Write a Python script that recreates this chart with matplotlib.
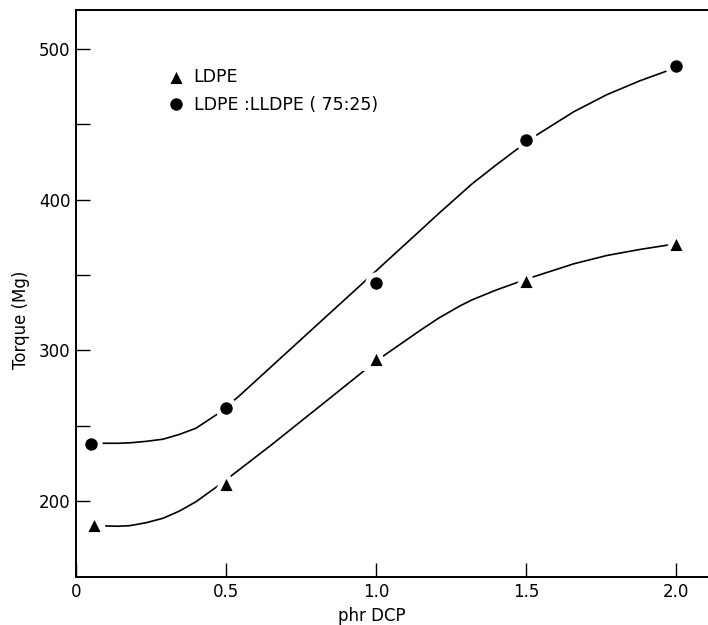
import matplotlib
matplotlib.use("Agg")
import matplotlib.pyplot as plt

# measured points (phr DCP vs torque)
ldpe_x = [0.06, 0.5, 1.0, 1.5, 2.0]
ldpe_y = [185, 212, 295, 347, 371]
blend_x = [0.05, 0.5, 1.0, 1.5, 2.0]
blend_y = [238, 262, 345, 440, 489]

# hand-drawn fit curves
ldpe_curve_x = [0.10, 0.14, 0.18, 0.235, 0.29, 0.345, 0.40, 0.47, 0.51,
                0.65, 0.76, 0.87, 0.97, 1.03, 1.15, 1.21, 1.28, 1.32, 1.40,
                1.47, 1.52, 1.66, 1.77, 1.88, 1.97, 2.0]
ldpe_curve_y = [183.4, 183.2, 183.6, 185.6, 188.5, 193.3, 199.5, 209.5,
                215.5, 237, 254.5, 272, 288, 297, 313.6, 321.5, 329.5, 333.5,
                340, 345, 348.5, 357.5, 363, 367, 369.8, 370.7]
blend_curve_x = [0.09, 0.14, 0.18, 0.235, 0.29, 0.345, 0.40, 0.47, 0.54,
                 0.65, 0.76, 0.87, 0.95, 1.04, 1.15, 1.21, 1.32, 1.40, 1.47,
                 1.54, 1.66, 1.77, 1.88, 1.97, 2.0]
blend_curve_y = [238.3, 238.3, 238.6, 239.6, 241, 244.2, 248.3, 257.5, 269,
                 289, 309, 329, 343.5, 360, 380, 391, 410.5, 423, 433.5,
                 443.5, 458.5, 469.8, 479, 485.5, 487.5]

x_ticks = [0, 0.5, 1.0, 1.5, 2.0]
x_labels = ["0", "0.5", "1.0", "1.5", "2.0"]
y_ticks = [200, 300, 400, 500]

plt.rcParams['font.family'] = ['DejaVu Sans']

fig = plt.figure(figsize=(7.08, 6.25), dpi=100)
ax = fig.add_axes([76 / 708, 48 / 625, 632 / 708, 567 / 625])

ax.plot(blend_curve_x, blend_curve_y, color='black', lw=1.2)
ax.plot(ldpe_curve_x, ldpe_curve_y, color='black', lw=1.2)

# white marker edges leave the small gaps seen around each point
ax.plot(ldpe_x, ldpe_y, linestyle='none', marker='^', markersize=15,
        color='black', markeredgecolor='white', markeredgewidth=3.5,
        label='LDPE')
ax.plot(blend_x, blend_y, linestyle='none', marker='o', markersize=12.5,
        color='black', markeredgecolor='white', markeredgewidth=3.5,
        label='LDPE :LLDPE ( 75:25)')

ax.set_xlim(0, 2.107)
ax.set_ylim(149.5, 526)

ax.set_xticks(x_ticks)
ax.set_xticklabels(x_labels)
ax.set_yticks(y_ticks)
ax.set_yticks([250, 350, 450], minor=True)
ax.tick_params(axis='both', which='both', direction='in', length=10,
               width=1, labelsize=12, colors='black')
ax.tick_params(axis='x', pad=4)
ax.tick_params(axis='y', pad=4)

for side in ['left', 'bottom', 'top']:
    ax.spines[side].set_linewidth(1.4)
ax.spines['right'].set_visible(False)

ax.set_xlabel('phr DCP', fontsize=12)
ax.xaxis.set_label_coords(0.468, -0.053)
ax.set_ylabel('Torque (Mg)', fontsize=12)
ax.yaxis.set_label_coords(-0.072, 0.453)

ax.legend(loc='upper left', bbox_to_anchor=(0.12, 0.925), frameon=False,
          fontsize=12.5, handlelength=1.0, handletextpad=0.5,
          labelspacing=0.55)

fig.savefig('out.png', dpi=100)
